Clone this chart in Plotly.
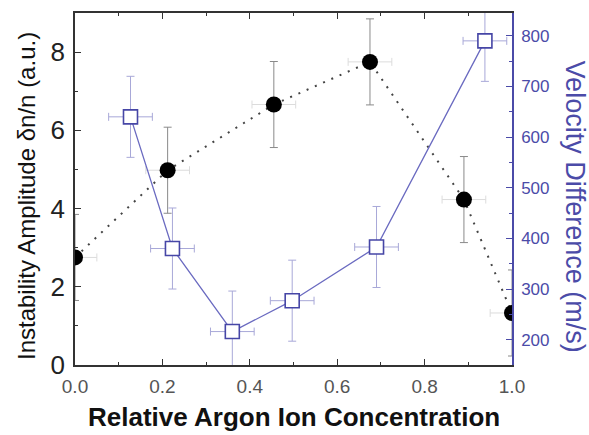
import plotly.graph_objects as go

# Instability amplitude (left axis, black circles)
amp_x = [0.0, 0.212, 0.455, 0.675, 0.890, 1.0]
amp_y = [2.75, 4.98, 6.66, 7.75, 4.23, 1.33]
amp_yerr = [1.1, 1.1, 1.1, 1.1, 1.1, 1.1]
amp_xerr = [0.05, 0.05, 0.05, 0.05, 0.05, 0.05]

# Velocity difference (right axis, open squares)
vel_x = [0.127, 0.223, 0.360, 0.497, 0.690, 0.938]
vel_y = [640, 380, 216, 277, 383, 790]
vel_yerr = [80, 80, 80, 80, 80, 80]
vel_xerr = [0.05, 0.05, 0.05, 0.05, 0.05, 0.05]

FONT = "Liberation Sans, Arial, sans-serif"
PURPLE = "#4b4ba8"

fig = go.Figure()

fig.add_trace(go.Scatter(
    x=vel_x, y=vel_y, yaxis="y2", mode="lines+markers",
    line=dict(color="#6a6ac0", width=1.3),
    marker=dict(symbol="square", size=14, color="white",
                line=dict(color="#4646a6", width=1.6)),
    error_y=dict(type="data", array=vel_yerr, color="#a8a8d8", thickness=1, width=4),
    error_x=dict(type="data", array=vel_xerr, color="#a8a8d8", thickness=1, width=4),
    showlegend=False,
))

fig.add_trace(go.Scatter(
    x=amp_x, y=amp_y, mode="lines+markers",
    line=dict(color="#444444", width=2, dash="2px,7px"),
    marker=dict(symbol="circle", size=16, color="black"),
    error_y=dict(type="data", array=amp_yerr, color="#8a8a8a", thickness=1, width=4),
    error_x=dict(type="data", array=amp_xerr, color="#dcdcdc", thickness=1, width=4),
    showlegend=False,
))

fig.update_layout(
    width=589, height=435,
    margin=dict(l=75, r=77, t=11, b=70),
    paper_bgcolor="white", plot_bgcolor="white",
    font=dict(family=FONT),
    xaxis=dict(
        range=[0, 1.0], tickvals=[0, 0.2, 0.4, 0.6, 0.8, 1.0],
        ticktext=["0.0", "0.2", "0.4", "0.6", "0.8", "1.0"],
        ticks="inside", ticklen=6, tickwidth=1.2, tickcolor="#333",
        minor=dict(dtick=0.1, ticks="inside", ticklen=3, tickcolor="#333"),
        showline=True, linecolor="#333", linewidth=1.5, mirror="ticks",
        showgrid=False, zeroline=False, ticklabelstandoff=3,
        tickfont=dict(size=19, color="#555"),
    ),
    yaxis=dict(
        range=[0, 9], tickvals=[0, 2, 4, 6, 8],
        ticks="inside", ticklen=6, tickwidth=1.2, tickcolor="#333",
        minor=dict(dtick=1, ticks="inside", ticklen=3, tickcolor="#333"),
        showline=True, linecolor="#333", linewidth=1.5,
        showgrid=False, zeroline=False, ticklabelstandoff=3,
        tickfont=dict(size=26, color="#222"),
    ),
    yaxis2=dict(
        overlaying="y", side="right", range=[150, 845],
        tickvals=[200, 300, 400, 500, 600, 700, 800],
        ticks="inside", ticklen=6, tickwidth=1.2, tickcolor=PURPLE,
        minor=dict(dtick=50, ticks="inside", ticklen=3, tickcolor=PURPLE),
        showline=True, linecolor=PURPLE, linewidth=1.5,
        showgrid=False, zeroline=False, ticklabelstandoff=4,
        tickfont=dict(size=17, color=PURPLE),
    ),
    annotations=[
        dict(text="Instability Amplitude δn/n (a.u.)", textangle=-90,
             xref="paper", yref="paper", x=0, y=0.48, xshift=-49,
             xanchor="center", yanchor="middle", showarrow=False,
             font=dict(size=24, color="#111", family=FONT)),
        dict(text="Velocity Difference (m/s)", textangle=90,
             xref="paper", yref="paper", x=1.0, y=0.45, xshift=63,
             xanchor="center", yanchor="middle", showarrow=False,
             font=dict(size=27, color=PURPLE, family=FONT)),
        dict(text="<b>Relative Argon Ion Concentration</b>",
             xref="paper", yref="paper", x=0.5, y=0, yshift=-52,
             xanchor="center", yanchor="middle", showarrow=False,
             font=dict(size=26, color="#111", family=FONT)),
    ],
)

fig.write_html("out.html")
